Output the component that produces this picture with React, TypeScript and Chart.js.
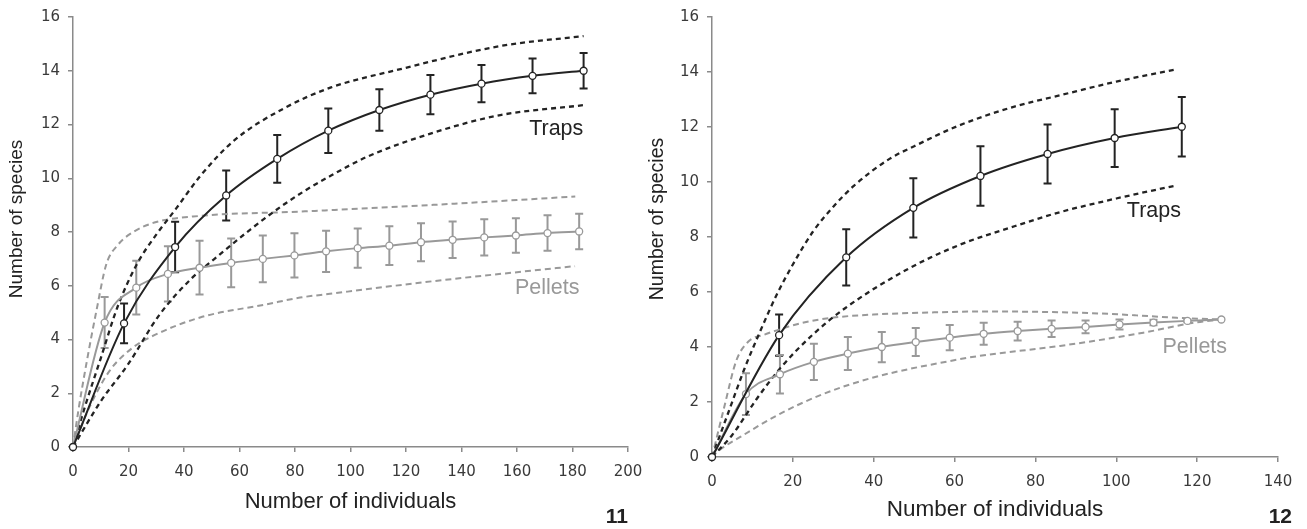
import React, { useEffect, useRef } from "react";
import { Chart, registerables } from "chart.js";

Chart.register(...registerables);

// ---------- Figure 11 ----------
const F11_TRAPS_X = [0, 18.4, 36.8, 55.2, 73.6, 92, 110.4, 128.8, 147.2, 165.6, 184];
const F11_TRAPS_Y = [0, 4.6, 7.44, 9.36, 10.72, 11.77, 12.54, 13.11, 13.52, 13.81, 14.0];
const F11_TRAPS_ERR = [0, 0.74, 0.94, 0.93, 0.89, 0.83, 0.77, 0.73, 0.69, 0.65, 0.66];
const F11_TRAPS_UP_X = [0, 4, 10, 16, 23, 30, 37, 46, 58, 76, 93, 118, 154, 184];
const F11_TRAPS_UP_Y = [0, 1.4, 3.3, 5.2, 6.8, 7.9, 8.85, 10.1, 11.4, 12.6, 13.38, 14.06, 14.92, 15.29];
const F11_TRAPS_LO_X = [0, 10, 20, 31, 43, 51, 64, 75, 83, 93, 106, 130, 154, 184];
const F11_TRAPS_LO_Y = [0, 1.7, 3.1, 4.9, 6.3, 7.0, 8.1, 8.95, 9.5, 10.1, 10.8, 11.7, 12.35, 12.72];

const F11_PEL_X = [0, 11.4, 22.8, 34.2, 45.6, 57, 68.4, 79.8, 91.2, 102.6, 114, 125.4, 136.8, 148.2, 159.6, 171, 182.4];
const F11_PEL_Y = [0, 4.63, 5.93, 6.44, 6.67, 6.85, 7.0, 7.13, 7.28, 7.4, 7.49, 7.62, 7.71, 7.8, 7.87, 7.96, 8.02];
const F11_PEL_ERR = [0, 0.95, 1.0, 1.03, 1.0, 0.91, 0.87, 0.82, 0.77, 0.73, 0.72, 0.71, 0.68, 0.67, 0.64, 0.66, 0.66];
const F11_PEL_UP_X = [0, 2, 5, 8.5, 12, 16, 21.7, 30, 46, 82, 130, 181];
const F11_PEL_UP_Y = [0, 1.4, 3.2, 5.1, 6.8, 7.5, 8.0, 8.37, 8.6, 8.76, 9.01, 9.32];
const F11_PEL_LO_X = [0, 6, 13.3, 21.7, 27.7, 45.8, 69.8, 81.8, 92.6, 129.8, 180.9];
const F11_PEL_LO_Y = [0, 1.5, 2.85, 3.71, 4.08, 4.82, 5.31, 5.56, 5.7, 6.17, 6.73];

const F11_LABEL_TEXT = ["Traps", "Pellets"];
const F11_LABEL_X = [183.9, 182.5];
const F11_LABEL_Y = [11.62, 5.7];

// ---------- Figure 12 ----------
const F12_TRAPS_X = [0, 16.6, 33.2, 49.8, 66.4, 83, 99.6, 116.2];
const F12_TRAPS_Y = [0, 4.43, 7.26, 9.06, 10.22, 11.02, 11.6, 12.01];
const F12_TRAPS_ERR = [0, 0.75, 1.02, 1.08, 1.08, 1.07, 1.05, 1.08];
const F12_TRAPS_UP_X = [0, 4, 8, 12, 16, 20, 25, 30, 35, 44, 50, 61, 75, 86, 100, 115];
const F12_TRAPS_UP_Y = [0, 1.6, 3.2, 4.6, 5.9, 7.0, 8.2, 9.1, 9.85, 10.85, 11.3, 12.05, 12.75, 13.15, 13.65, 14.1];
const F12_TRAPS_LO_X = [0, 5, 11, 17, 25, 33, 48, 61, 75, 86, 100, 115];
const F12_TRAPS_LO_Y = [0, 0.8, 2.1, 3.25, 4.46, 5.42, 6.8, 7.7, 8.4, 8.9, 9.4, 9.88];

const F12_PEL_X = [0, 8.4, 16.8, 25.2, 33.6, 42, 50.4, 58.8, 67.2, 75.6, 84, 92.4, 100.8, 109.2, 117.6, 126];
const F12_PEL_Y = [0, 2.29, 3.01, 3.46, 3.76, 4.0, 4.18, 4.34, 4.48, 4.58, 4.66, 4.73, 4.82, 4.89, 4.95, 5.0];
const F12_PEL_ERR = [0, 0.76, 0.7, 0.66, 0.6, 0.55, 0.51, 0.46, 0.4, 0.34, 0.3, 0.23, 0.18, 0.1, 0.05, 0];
const F12_PEL_UP_X = [0, 3, 6, 9, 13, 18, 23, 30, 40, 55, 66, 80, 94, 105, 115, 126];
const F12_PEL_UP_Y = [0, 1.8, 3.5, 4.2, 4.45, 4.7, 4.9, 5.07, 5.18, 5.26, 5.29, 5.28, 5.23, 5.15, 5.06, 5.0];
const F12_PEL_LO_X = [0, 1.2, 6.9, 16.8, 27.5, 39.9, 61.4, 66.3, 86.1, 106.7, 119.1, 126];
const F12_PEL_LO_Y = [0, 0.18, 0.72, 1.57, 2.29, 2.89, 3.56, 3.68, 4.04, 4.52, 4.88, 5.0];

const F12_LABEL_TEXT = ["Traps", "Pellets"];
const F12_LABEL_X = [116.0, 127.4];
const F12_LABEL_Y = [8.73, 3.79];

// ---------- styles ----------
const DARK = "#232323";
const GRAY = "#999999";
const AXIS = "#8a8a8a";
const TICK_COLOR = "#3a3a3a";

const zip = (xs: number[], ys: number[]) => xs.map((x, i) => ({ x, y: ys[i] }));

const errorBarPlugin = {
  id: "errorBars",
  beforeDatasetsDraw(chart: any) {
    const { ctx, scales } = chart;
    const xs = scales.x;
    const ys = scales.y;
    chart.data.datasets.forEach((ds: any) => {
      if (!ds.errors) return;
      ctx.save();
      ctx.strokeStyle = ds.borderColor;
      ctx.lineWidth = 2;
      ds.data.forEach((p: any, j: number) => {
        const e = ds.errors[j];
        if (!e) return;
        const px = xs.getPixelForValue(p.x);
        const top = ys.getPixelForValue(p.y + e);
        const bot = ys.getPixelForValue(p.y - e);
        ctx.beginPath();
        ctx.moveTo(px, top);
        ctx.lineTo(px, bot);
        ctx.moveTo(px - 4, top);
        ctx.lineTo(px + 4, top);
        ctx.moveTo(px - 4, bot);
        ctx.lineTo(px + 4, bot);
        ctx.stroke();
      });
      ctx.restore();
    });
  },
};

const textPlugin = {
  id: "figText",
  afterDraw(chart: any, _args: any, opts: any) {
    const { ctx, scales, chartArea } = chart;
    ctx.save();
    (opts.dataLabels || []).forEach((l: any) => {
      ctx.font = l.font;
      ctx.fillStyle = l.color;
      ctx.textAlign = "right";
      ctx.textBaseline = "alphabetic";
      ctx.fillText(l.text, scales.x.getPixelForValue(l.x), scales.y.getPixelForValue(l.y));
    });
    const yt = opts.yTitle;
    if (yt) {
      ctx.save();
      ctx.translate(yt.x, yt.y);
      ctx.rotate(-Math.PI / 2);
      ctx.font = yt.font;
      ctx.fillStyle = yt.color;
      ctx.textAlign = "center";
      ctx.textBaseline = "middle";
      ctx.fillText(yt.text, 0, 0);
      ctx.restore();
    }
    const xt = opts.xTitle;
    if (xt) {
      ctx.font = xt.font;
      ctx.fillStyle = xt.color;
      ctx.textAlign = "center";
      ctx.textBaseline = "middle";
      ctx.fillText(xt.text, (chartArea.left + chartArea.right) / 2, xt.y);
    }
    const fn = opts.figNum;
    if (fn) {
      ctx.font = fn.font;
      ctx.fillStyle = fn.color;
      ctx.textAlign = "right";
      ctx.textBaseline = "alphabetic";
      ctx.fillText(fn.text, fn.x, fn.y);
    }
    ctx.restore();
  },
};

function meanDs(label: string, xs: number[], ys: number[], errs: number[], color: string) {
  return {
    label,
    data: zip(xs, ys),
    errors: errs,
    showLine: true,
    borderColor: color,
    borderWidth: 2,
    tension: 0.4,
    cubicInterpolationMode: "monotone",
    pointRadius: 3.5,
    pointBackgroundColor: "#ffffff",
    pointBorderColor: color,
    pointBorderWidth: 1.3,
    clip: false,
  };
}

function boundDs(label: string, xs: number[], ys: number[], color: string, width: number, dash: number[]) {
  return {
    label,
    data: zip(xs, ys),
    showLine: true,
    borderColor: color,
    borderWidth: width,
    borderDash: dash,
    cubicInterpolationMode: "monotone",
    tension: 0.4,
    pointRadius: 0,
    clip: false,
  };
}

function makeConfig(p: any) {
  const tickFont = { family: "DejaVu Sans", size: 15 };
  return {
    type: "scatter",
    data: {
      datasets: [
        meanDs("Traps", p.tx, p.ty, p.te, DARK),
        meanDs("Pellets", p.px, p.py, p.pe, GRAY),
        boundDs("Traps upper", p.tux, p.tuy, DARK, 2.3, [5, 4]),
        boundDs("Traps lower", p.tlx, p.tly, DARK, 2.3, [5, 4]),
        boundDs("Pellets upper", p.pux, p.puy, GRAY, 2, [6, 4]),
        boundDs("Pellets lower", p.plx, p.ply, GRAY, 2, [6, 4]),
      ],
    },
    options: {
      responsive: false,
      maintainAspectRatio: false,
      animation: false,
      devicePixelRatio: 1,
      layout: { autoPadding: false, padding: p.padding },
      plugins: {
        legend: { display: false },
        tooltip: { enabled: false },
        figText: p.text,
      },
      scales: {
        x: {
          type: "linear",
          min: 0,
          max: p.xMax,
          border: { color: AXIS, width: 1.5 },
          grid: { drawOnChartArea: false, drawTicks: true, tickLength: 5, color: AXIS, lineWidth: 1.5 },
          ticks: { stepSize: 20, color: TICK_COLOR, font: tickFont, padding: 11, maxRotation: 0 },
          afterFit: (s: any) => {
            s.height = p.xHeight;
          },
        },
        y: {
          type: "linear",
          min: 0,
          max: 16,
          border: { color: AXIS, width: 1.5 },
          grid: { drawOnChartArea: false, drawTicks: true, tickLength: 5, color: AXIS, lineWidth: 1.5 },
          ticks: { stepSize: 2, color: TICK_COLOR, font: tickFont, padding: 8 },
          afterFit: (s: any) => {
            s.width = p.yWidth;
          },
        },
      },
    },
    plugins: [errorBarPlugin, textPlugin],
  };
}

const labelFont = "21.5px 'Liberation Sans', Arial, sans-serif";

function labels(texts: string[], xs: number[], ys: number[]) {
  return texts.map((t, i) => ({
    text: t,
    x: xs[i],
    y: ys[i],
    font: labelFont,
    color: t === "Traps" ? DARK : GRAY,
  }));
}

export default function App() {
  const leftRef = useRef<HTMLCanvasElement>(null);
  const rightRef = useRef<HTMLCanvasElement>(null);

  useEffect(() => {
    const c1 = new Chart(
      leftRef.current as HTMLCanvasElement,
      makeConfig({
        tx: F11_TRAPS_X, ty: F11_TRAPS_Y, te: F11_TRAPS_ERR,
        px: F11_PEL_X, py: F11_PEL_Y, pe: F11_PEL_ERR,
        tux: F11_TRAPS_UP_X, tuy: F11_TRAPS_UP_Y,
        tlx: F11_TRAPS_LO_X, tly: F11_TRAPS_LO_Y,
        pux: F11_PEL_UP_X, puy: F11_PEL_UP_Y,
        plx: F11_PEL_LO_X, ply: F11_PEL_LO_Y,
        xMax: 200,
        xHeight: 82,
        yWidth: 73,
        padding: { top: 15, right: 32, bottom: 0, left: 0 },
        text: {
          dataLabels: labels(F11_LABEL_TEXT, F11_LABEL_X, F11_LABEL_Y),
          yTitle: { text: "Number of species", x: 17, y: 219, font: "19px 'Liberation Sans', Arial, sans-serif", color: "#222" },
          xTitle: { text: "Number of individuals", y: 502, font: "22px 'Liberation Sans', Arial, sans-serif", color: "#222" },
          figNum: { text: "11", x: 628, y: 523, font: "bold 21px 'Liberation Sans', Arial, sans-serif", color: "#222" },
        },
      }) as any
    );
    const c2 = new Chart(
      rightRef.current as HTMLCanvasElement,
      makeConfig({
        tx: F12_TRAPS_X, ty: F12_TRAPS_Y, te: F12_TRAPS_ERR,
        px: F12_PEL_X, py: F12_PEL_Y, pe: F12_PEL_ERR,
        tux: F12_TRAPS_UP_X, tuy: F12_TRAPS_UP_Y,
        tlx: F12_TRAPS_LO_X, tly: F12_TRAPS_LO_Y,
        pux: F12_PEL_UP_X, puy: F12_PEL_UP_Y,
        plx: F12_PEL_LO_X, ply: F12_PEL_LO_Y,
        xMax: 140,
        xHeight: 72,
        yWidth: 72,
        padding: { top: 14, right: 29, bottom: 0, left: 0 },
        text: {
          dataLabels: labels(F12_LABEL_TEXT, F12_LABEL_X, F12_LABEL_Y),
          yTitle: { text: "Number of species", x: 17.5, y: 219, font: "19.5px 'Liberation Sans', Arial, sans-serif", color: "#222" },
          xTitle: { text: "Number of individuals", y: 510, font: "22.5px 'Liberation Sans', Arial, sans-serif", color: "#222" },
          figNum: { text: "12", x: 652, y: 523, font: "bold 21px 'Liberation Sans', Arial, sans-serif", color: "#222" },
        },
      }) as any
    );
    return () => {
      c1.destroy();
      c2.destroy();
    };
  }, []);

  return (
    <div style={{ position: "fixed", left: 0, top: 0, width: 1307, height: 529, background: "#fff" }}>
      <canvas ref={leftRef} width={660} height={529} style={{ position: "absolute", left: 0, top: 0, width: 660, height: 529 }} />
      <canvas ref={rightRef} width={667} height={529} style={{ position: "absolute", left: 640, top: 0, width: 667, height: 529 }} />
    </div>
  );
}
